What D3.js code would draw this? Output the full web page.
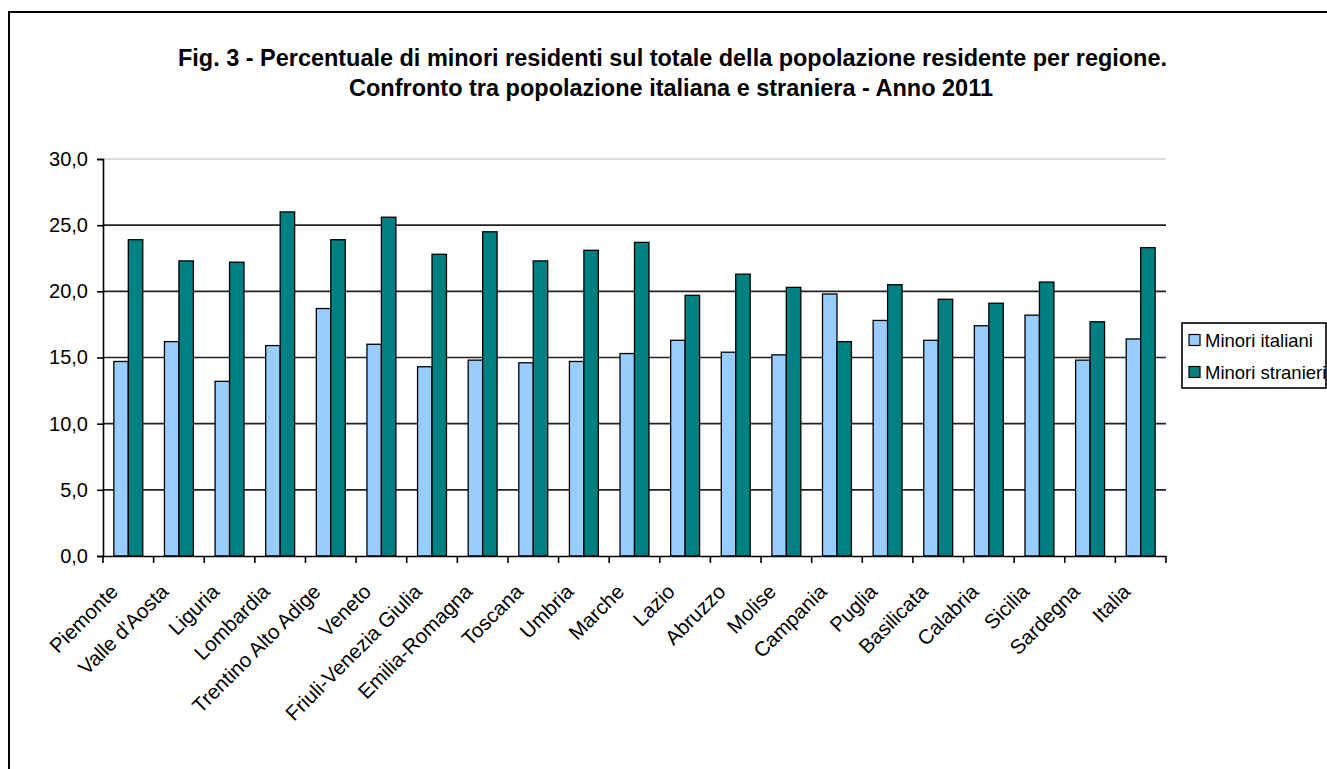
<!DOCTYPE html>
<html>
<head>
<meta charset="utf-8">
<script src="https://cdn.jsdelivr.net/npm/d3@7/dist/d3.min.js"></script>
<style>
  html, body { margin: 0; padding: 0; background: #fff; }
  svg { display: block; }
  text { font-family: "Liberation Sans", Arial, sans-serif; fill: #000; }
</style>
</head>
<body>
<svg id="chart" width="1327" height="769"></svg>
<script>
const categories = ["Piemonte", "Valle d'Aosta", "Liguria", "Lombardia", "Trentino Alto Adige", "Veneto",
  "Friuli-Venezia Giulia", "Emilia-Romagna", "Toscana", "Umbria", "Marche", "Lazio", "Abruzzo", "Molise",
  "Campania", "Puglia", "Basilicata", "Calabria", "Sicilia", "Sardegna", "Italia"];
const minoriItaliani = [14.7, 16.2, 13.2, 15.9, 18.7, 16.0, 14.3, 14.8, 14.6, 14.7, 15.3, 16.3, 15.4, 15.2,
  19.8, 17.8, 16.3, 17.4, 18.2, 14.8, 16.4];
const minoriStranieri = [23.9, 22.3, 22.2, 26.0, 23.9, 25.6, 22.8, 24.5, 22.3, 23.1, 23.7, 19.7, 21.3, 20.3,
  16.2, 20.5, 19.4, 19.1, 20.7, 17.7, 23.3];
const seriesNames = ["Minori italiani", "Minori stranieri"];
const seriesColors = ["#99ccff", "#008080"];
const yTicks = [0, 5, 10, 15, 20, 25, 30];
const titleLines = ["Fig. 3 - Percentuale di minori residenti sul totale della popolazione residente per regione.",
  "Confronto tra popolazione italiana e straniera - Anno 2011"];

const svg = d3.select("#chart");
const W = 1327, H = 769;
const plot = { left: 103, right: 1166, top: 159, bottom: 556 };

// outer frame
svg.append("rect").attr("x", 9).attr("y", 12).attr("width", W + 20).attr("height", H + 20)
  .attr("fill", "none").attr("stroke", "#000").attr("stroke-width", 2);

// title
svg.append("text").attr("x", 672.5).attr("y", 66).attr("text-anchor", "middle")
  .attr("font-size", 23).attr("font-weight", "bold")
  .attr("textLength", 989).attr("lengthAdjust", "spacingAndGlyphs").text(titleLines[0]);
svg.append("text").attr("x", 671).attr("y", 96).attr("text-anchor", "middle")
  .attr("font-size", 23).attr("font-weight", "bold")
  .attr("textLength", 644).attr("lengthAdjust", "spacingAndGlyphs").text(titleLines[1]);

const x = d3.scaleBand().domain(categories).range([plot.left, plot.right]).paddingInner(0).paddingOuter(0);
const y = d3.scaleLinear().domain([0, 30]).range([plot.bottom, plot.top]);
const barW = x.bandwidth() / 3.5;
const gapOff = (x.bandwidth() - 2 * barW) / 2;

// gridlines
svg.append("g").selectAll("line").data(yTicks.filter(d => d > 0)).join("line")
  .attr("x1", plot.left).attr("x2", plot.right)
  .attr("y1", d => y(d)).attr("y2", d => y(d))
  .attr("stroke", d => d === 30 ? "#d0d0d0" : "#222").attr("stroke-width", 1.6);

// bars
const data = categories.map((c, i) => ({ c, vals: [minoriItaliani[i], minoriStranieri[i]] }));
const groups = svg.append("g").selectAll("g").data(data).join("g");
groups.selectAll("rect").data(d => d.vals.map((v, k) => ({ c: d.c, v, k }))).join("rect")
  .attr("x", d => x(d.c) + gapOff + d.k * barW)
  .attr("y", d => y(d.v))
  .attr("width", barW)
  .attr("height", d => y(0) - y(d.v))
  .attr("fill", d => seriesColors[d.k])
  .attr("stroke", "#000").attr("stroke-width", 1.3);

// y axis
const yAxis = d3.axisLeft(y).tickValues(yTicks).tickSize(6).tickPadding(9)
  .tickFormat(d => d3.format(".1f")(d).replace(".", ","));
const gy = svg.append("g").attr("transform", `translate(${plot.left},0)`).call(yAxis);
gy.select(".domain").attr("stroke", "#000").attr("stroke-width", 1.6);
gy.selectAll(".tick line").attr("stroke", "#000").attr("stroke-width", 1.6);
gy.selectAll(".tick text").attr("font-size", 20).attr("font-family", "Liberation Sans, Arial, sans-serif").attr("fill", "#000");

// x axis line and ticks at boundaries
const xAxis = d3.axisBottom(x).tickSize(0).tickFormat("");
const gx = svg.append("g").attr("transform", `translate(0,${plot.bottom})`).call(xAxis);
gx.select(".domain").attr("stroke", "#000").attr("stroke-width", 1.6);
const bounds = categories.map(c => x(c)).concat([plot.right]);
svg.append("g").selectAll("line").data(bounds).join("line")
  .attr("x1", d => d).attr("x2", d => d).attr("y1", plot.bottom).attr("y2", plot.bottom + 7)
  .attr("stroke", "#000").attr("stroke-width", 1.6);

// category labels
svg.append("g").selectAll("text").data(categories).join("text")
  .attr("transform", d => `translate(${x(d) + x.bandwidth() / 2 - 9},${plot.bottom + 37}) rotate(-45)`)
  .attr("text-anchor", "end").attr("font-size", 20.5).text(d => d);

// legend
const lg = svg.append("g");
lg.append("rect").attr("x", 1182).attr("y", 323).attr("width", 144).attr("height", 65)
  .attr("fill", "#fff").attr("stroke", "#000").attr("stroke-width", 1.6);
seriesNames.forEach((s, i) => {
  const cy = 340.5 + i * 32;
  lg.append("rect").attr("x", 1189).attr("y", cy - 6).attr("width", 11).attr("height", 11)
    .attr("fill", seriesColors[i]).attr("stroke", "#000").attr("stroke-width", 1.2);
  lg.append("text").attr("x", 1205).attr("y", cy + 6.5).attr("font-size", 18.5).text(s);
});
</script>
</body>
</html>
